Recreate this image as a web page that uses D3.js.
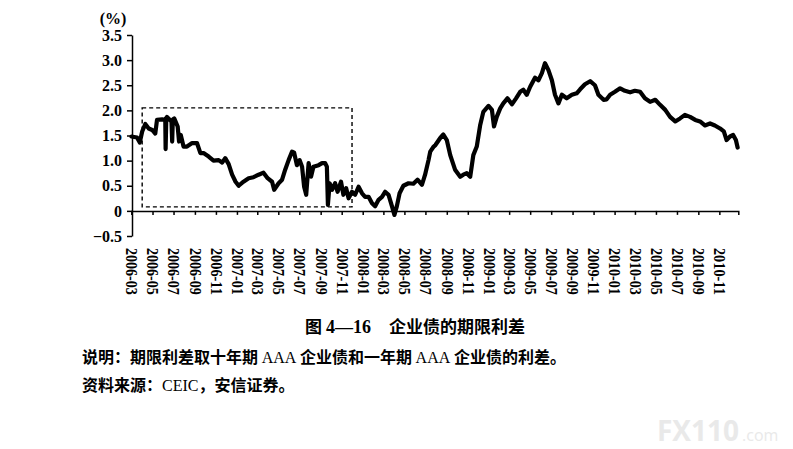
<!DOCTYPE html>
<html>
<head>
<meta charset="utf-8">
<script src="https://cdn.jsdelivr.net/npm/d3@7"></script>
<style>
  body { margin:0; background:#fff; }
  svg { display:block; }
</style>
</head>
<body>
<div id="chart"></div>
<script>
// spread data (date, % points)
var dates = [
 "2006-03-01","2006-03-17","2006-03-25","2006-04-01","2006-04-10","2006-04-20","2006-04-30","2006-05-09","2006-05-14","2006-05-29",
 "2006-06-07","2006-06-08","2006-06-10","2006-06-12","2006-06-22","2006-06-25","2006-06-27","2006-06-29","2006-07-03","2006-07-13",
 "2006-07-17","2006-07-22","2006-07-30","2006-08-09","2006-08-24","2006-09-07","2006-09-17","2006-09-26","2006-10-11","2006-10-25",
 "2006-11-09","2006-11-19","2006-11-28","2006-12-08","2006-12-18","2006-12-28","2007-01-06","2007-01-20","2007-02-04","2007-02-18",
 "2007-03-05","2007-03-19","2007-03-31","2007-04-13","2007-04-19","2007-05-02","2007-05-12","2007-05-21","2007-05-31","2007-06-10",
 "2007-06-16","2007-06-24","2007-07-02","2007-07-09","2007-07-15","2007-07-21","2007-07-28","2007-08-04","2007-08-11","2007-08-26",
 "2007-09-05","2007-09-14","2007-09-19","2007-09-22","2007-09-27","2007-10-04","2007-10-13","2007-10-20","2007-10-30","2007-11-06",
 "2007-11-14","2007-11-21","2007-12-01","2007-12-10","2007-12-20","2007-12-30","2008-01-08","2008-01-18","2008-01-28","2008-02-06",
 "2008-02-16","2008-02-26","2008-03-06","2008-03-16","2008-03-26","2008-04-02","2008-04-09","2008-04-17","2008-04-28","2008-05-13",
 "2008-05-27","2008-06-08","2008-06-21","2008-06-30","2008-07-10","2008-07-15","2008-07-25","2008-07-30","2008-08-13","2008-08-22",
 "2008-09-01","2008-09-11","2008-09-25","2008-10-10","2008-10-19","2008-10-29","2008-11-08","2008-11-17","2008-11-27","2008-12-07",
 "2008-12-16","2008-12-31","2009-01-10","2009-01-16","2009-01-24","2009-02-03","2009-02-12","2009-02-24","2009-03-09","2009-03-21",
 "2009-04-02","2009-04-11","2009-04-21","2009-05-01","2009-05-15","2009-05-25","2009-06-04","2009-06-13","2009-06-23","2009-07-03",
 "2009-07-12","2009-07-22","2009-08-01","2009-08-15","2009-08-30","2009-09-13","2009-09-23","2009-10-07","2009-10-22","2009-11-05",
 "2009-11-15","2009-11-30","2009-12-09","2009-12-19","2010-01-02","2010-01-17","2010-01-31","2010-02-15","2010-03-01","2010-03-16",
 "2010-03-30","2010-04-14","2010-04-29","2010-05-13","2010-05-28","2010-06-11","2010-06-26","2010-07-10","2010-07-24","2010-08-08",
 "2010-08-23","2010-09-06","2010-09-20","2010-10-05","2010-10-19","2010-11-03","2010-11-14","2010-11-22","2010-12-02","2010-12-11",
 "2010-12-19","2010-12-24"
];
var spread = [
 1.48,1.46,1.36,1.58,1.73,1.64,1.61,1.54,1.81,1.82,
 1.81,1.23,1.85,1.87,1.80,1.80,1.38,1.82,1.84,1.68,
 1.38,1.51,1.28,1.28,1.35,1.35,1.15,1.15,1.08,1.00,
 1.01,0.96,1.05,0.93,0.72,0.58,0.50,0.58,0.65,0.67,
 0.72,0.76,0.65,0.58,0.42,0.55,0.62,0.82,1.01,1.18,
 1.16,0.91,1.01,0.88,0.48,0.32,0.95,0.68,0.88,0.91,
 0.95,0.95,0.88,0.12,0.55,0.42,0.55,0.38,0.58,0.32,
 0.45,0.25,0.38,0.32,0.48,0.35,0.28,0.28,0.15,0.09,
 0.22,0.28,0.38,0.32,0.09,-0.08,0.09,0.35,0.50,0.55,
 0.54,0.62,0.52,0.72,1.01,1.18,1.28,1.31,1.45,1.52,
 1.41,1.11,0.82,0.68,0.72,0.75,0.68,1.11,1.28,1.71,
 1.97,2.09,2.01,1.68,1.87,2.04,2.14,2.24,2.12,2.24,
 2.37,2.41,2.31,2.47,2.65,2.60,2.74,2.94,2.80,2.60,
 2.31,2.14,2.31,2.24,2.31,2.34,2.42,2.52,2.58,2.50,
 2.31,2.21,2.22,2.31,2.37,2.44,2.39,2.36,2.39,2.37,
 2.24,2.17,2.21,2.11,2.01,1.87,1.78,1.84,1.91,1.87,
 1.81,1.78,1.70,1.74,1.70,1.64,1.58,1.41,1.48,1.51,
 1.41,1.26
];
var xTickLabels = ["2006-03","2006-05","2006-07","2006-09","2006-11","2007-01","2007-03","2007-05","2007-07","2007-09",
 "2007-11","2008-01","2008-03","2008-05","2008-07","2008-09","2008-11","2009-01","2009-03","2009-05",
 "2009-07","2009-09","2009-11","2010-01","2010-03","2010-05","2010-07","2010-09","2010-11"];
var yTicks = [3.5,3.0,2.5,2.0,1.5,1.0,0.5,0,-0.5];
var yTickLabels = ["3.5","3.0","2.5","2.0","1.5","1.0","0.5","0","\u22120.5"];
// dashed highlight box: dates and value range
var boxDates = ["2006-04-01","2007-12-01"];
var boxValues = [0.08,2.05];
var xDomain = ["2006-03-01","2010-12-26"];

var parse = d3.utcParse("%Y-%m-%d");
var parseM = d3.utcParse("%Y-%m");
var width = 793, height = 449;
var serif = "'Liberation Serif','Times New Roman',serif";
var cjk = "'Noto Sans CJK SC','Liberation Serif',sans-serif";

var svg = d3.select('#chart').append('svg')
  .attr('width',width).attr('height',height)
  .style('background','#fff');

var x = d3.scaleUtc().domain(xDomain.map(parse)).range([131.5,738.3]);
var y = d3.scaleLinear().domain([-0.5,3.5]).range([236,35]);

// watermark
var wm = svg.append('text').attr('x',657).attr('y',441)
  .style('font-family',"'Open Sans',sans-serif").style('fill','#e9e9e9');
wm.append('tspan').style('font-size','28px').style('font-weight','bold').text('FX110');
wm.append('tspan').style('font-size','16px').attr('dx',3).text('.com');

// dashed box
svg.append('rect')
  .attr('x',x(parse(boxDates[0])))
  .attr('y',y(boxValues[1]))
  .attr('width',x(parse(boxDates[1]))-x(parse(boxDates[0])))
  .attr('height',y(boxValues[0])-y(boxValues[1]))
  .style('fill','none').style('stroke','#000')
  .style('stroke-width',1.4).style('stroke-dasharray','4,3');

// y axis
var yAxis = d3.axisLeft(y).tickValues(yTicks).tickSize(5).tickSizeOuter(0).tickPadding(5)
  .tickFormat(function(d,i){ return yTickLabels[i]; });
var gy = svg.append('g').attr('transform','translate(132,0)').call(yAxis);
gy.selectAll('path,line').style('stroke','#000').style('stroke-width',1.5);
gy.selectAll('text').style('font-family',serif).style('font-size','16px')
  .style('font-weight','bold').style('fill','#000');

// x axis on the zero line
var xAxis = d3.axisBottom(x).tickValues(xTickLabels.map(parseM)).tickSize(4).tickSizeOuter(4)
  .tickFormat(function(d,i){ return xTickLabels[i]; });
var gx = svg.append('g').attr('transform','translate(0,'+y(0)+')').call(xAxis);
gx.selectAll('path,line').style('stroke','#000').style('stroke-width',1.5);
gx.selectAll('text')
  .attr('x',0).attr('y',0).attr('dy','0.35em')
  .attr('transform','translate(0,37) rotate(90)')
  .attr('textLength',47).attr('lengthAdjust','spacingAndGlyphs')
  .style('text-anchor','start')
  .style('font-family',serif).style('font-size','16px')
  .style('font-weight','bold').style('fill','#000');

// unit label
svg.append('text').attr('x',113).attr('y',24).attr('text-anchor','middle')
  .style('font-family',serif).style('font-size','16px').style('font-weight','bold')
  .text('(%)');

// spread line
var line = d3.line()
  .x(function(d){ return x(d.date); })
  .y(function(d){ return y(d.v); });
var series = dates.map(function(d,i){ return {date:parse(d), v:spread[i]}; });
svg.append('path').datum(series)
  .attr('d',line)
  .style('fill','none').style('stroke','#000')
  .style('stroke-width',4.2).style('stroke-linejoin','round').style('stroke-linecap','round');

// caption and notes
var title = svg.append('text').attr('x',415).attr('y',333).attr('text-anchor','middle')
  .style('font-family',cjk).style('font-size','17px').style('font-weight','bold');
title.append('tspan').text('图 ');
title.append('tspan').style('font-family',serif).style('font-size','18px').text('4—16');
title.append('tspan').attr('dx',18).text('企业债的期限利差');

var note = svg.append('text').attr('x',82).attr('y',363)
  .style('font-family',cjk).style('font-size','16px').style('font-weight','bold');
note.append('tspan').text('说明：期限利差取十年期 ');
note.append('tspan').style('font-family',serif).style('font-weight','normal').text('AAA');
note.append('tspan').text(' 企业债和一年期 ');
note.append('tspan').style('font-family',serif).style('font-weight','normal').text('AAA');
note.append('tspan').text(' 企业债的利差。');

var src = svg.append('text').attr('x',82).attr('y',391)
  .style('font-family',cjk).style('font-size','16px').style('font-weight','bold');
src.append('tspan').text('资料来源：');
src.append('tspan').style('font-family',serif).style('font-weight','normal').text('CEIC');
src.append('tspan').text('，安信证券。');
</script>
</body>
</html>
